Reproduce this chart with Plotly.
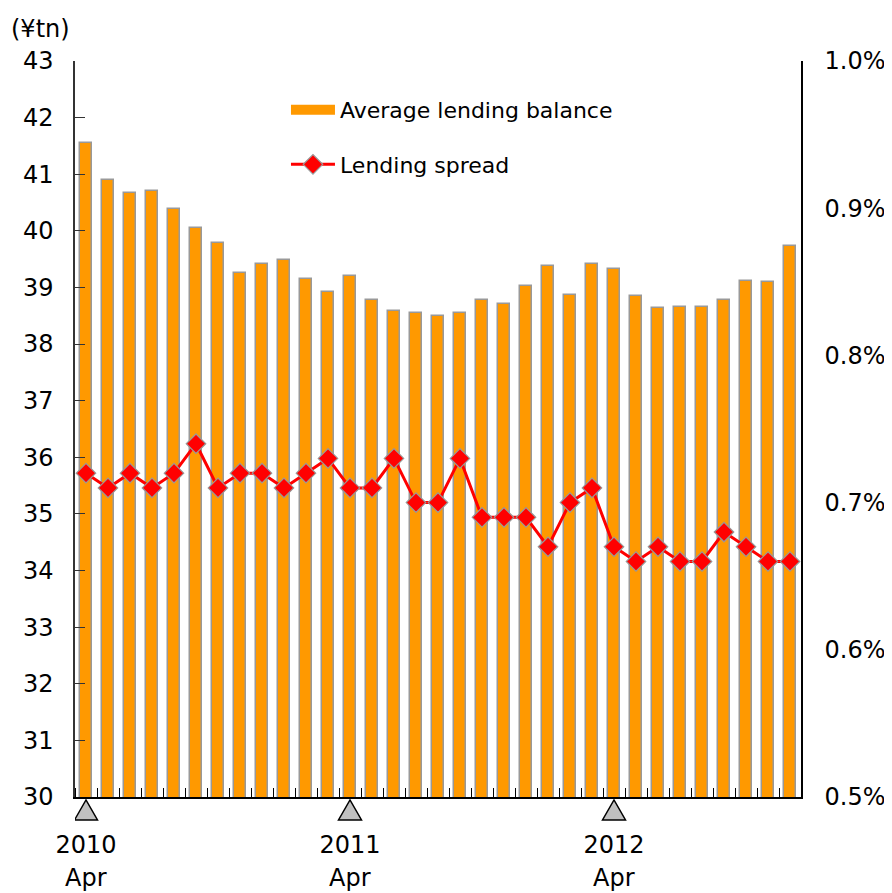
import plotly.graph_objects as go

# ---- data ----
months = list(range(33))  # Apr 2010 .. Dec 2012
balance = [41.55, 40.90, 40.67, 40.71, 40.39, 40.05, 39.79, 39.26, 39.42, 39.49,
           39.15, 38.92, 39.20, 38.78, 38.59, 38.55, 38.50, 38.55, 38.78, 38.71,
           39.03, 39.38, 38.87, 39.42, 39.33, 38.85, 38.64, 38.66, 38.66, 38.78,
           39.12, 39.10, 39.73]
spread = [0.72, 0.71, 0.72, 0.71, 0.72, 0.74, 0.71, 0.72, 0.72, 0.71,
          0.72, 0.73, 0.71, 0.71, 0.73, 0.70, 0.70, 0.73, 0.69, 0.69,
          0.69, 0.67, 0.70, 0.71, 0.67, 0.66, 0.67, 0.66, 0.66, 0.68,
          0.67, 0.66, 0.66]
label_pos = [0, 12, 24]
year_text = ["2010", "2011", "2012"]
month_text = ["Apr", "Apr", "Apr"]

FONT = "DejaVu Sans"
ORANGE = "#FF9900"

fig = go.Figure()
fig.add_trace(go.Bar(
    x=months, y=balance, name="Average lending balance", width=0.55,
    marker=dict(color=ORANGE, line=dict(color="#999999", width=1.5)),
    showlegend=False, legendgroup="a",
))
# legend swatch for the bars (wide rectangle like the original)
fig.add_trace(go.Scatter(
    x=[None], y=[None], mode="lines", name="Average lending balance",
    line=dict(color=ORANGE, width=14), legendgroup="a", hoverinfo="skip",
))
fig.add_trace(go.Scatter(
    x=months, y=spread, name="Lending spread", yaxis="y2", mode="lines+markers",
    line=dict(color="#FF0000", width=3),
    marker=dict(symbol="diamond", size=15, color="#FF0000",
                line=dict(color="#999999", width=1.2)),
    legendgroup="b",
))

# gray triangles under the Apr positions
shapes = []
for p in label_pos:
    shapes.append(dict(
        type="path", xref="x", yref="paper", xsizemode="pixel", ysizemode="pixel",
        xanchor=p, yanchor=0, path="M -11.5,-23 L 11.5,-23 L 0,-3 Z",
        fillcolor="#C0C0C0", line=dict(color="#000000", width=1.5),
        layer="above",
    ))

annotations = [dict(text="(¥tn)", xref="paper", yref="paper", x=-0.091, y=1.0,
                    xanchor="left", yanchor="bottom", yshift=16, showarrow=False,
                    font=dict(size=24, family=FONT))]
for p, m in zip(label_pos, month_text):
    annotations.append(dict(text=m, xref="x", yref="paper", x=p, y=0,
                            xanchor="center", yanchor="middle", yshift=-81,
                            showarrow=False, font=dict(size=24, family=FONT)))

fig.update_layout(
    width=884, height=885,
    margin=dict(l=67, r=91, t=53, b=96),
    plot_bgcolor="white", paper_bgcolor="white",
    font=dict(family=FONT, size=24, color="#000000"),
    bargap=0,
    showlegend=True,
    legend=dict(x=0.2906, y=0.962, xanchor="left", yanchor="top",
                font=dict(size=22, family=FONT), bgcolor="rgba(0,0,0,0)",
                traceorder="grouped", tracegroupgap=23, itemwidth=44),
    xaxis=dict(range=[-0.5, 32.5], tickvals=label_pos, ticktext=year_text,
               ticks="", showline=True, linecolor="#000000", linewidth=1.5,
               showgrid=False, zeroline=False, ticklabelstandoff=25,
               automargin=False,
               minor=dict(tick0=0.5, dtick=1, ticks="inside", ticklen=9,
                          tickcolor="#000000", tickwidth=1.2, showgrid=False)),
    yaxis=dict(range=[30, 43], dtick=1, ticks="inside", ticklen=10,
               tickcolor="#333333", tickwidth=1.2, showline=True,
               linecolor="#333333", linewidth=1.5, showgrid=False,
               zeroline=False, ticklabelstandoff=15, automargin=False),
    yaxis2=dict(range=[0.5, 1.0], dtick=0.1, tickformat=".1f", ticksuffix="%",
                overlaying="y", side="right", showline=True,
                linecolor="#000000", linewidth=1.5, ticks="", showgrid=False,
                zeroline=False, ticklabelstandoff=17, automargin=False),
    shapes=shapes,
    annotations=annotations,
)

fig.write_html("out.html")
